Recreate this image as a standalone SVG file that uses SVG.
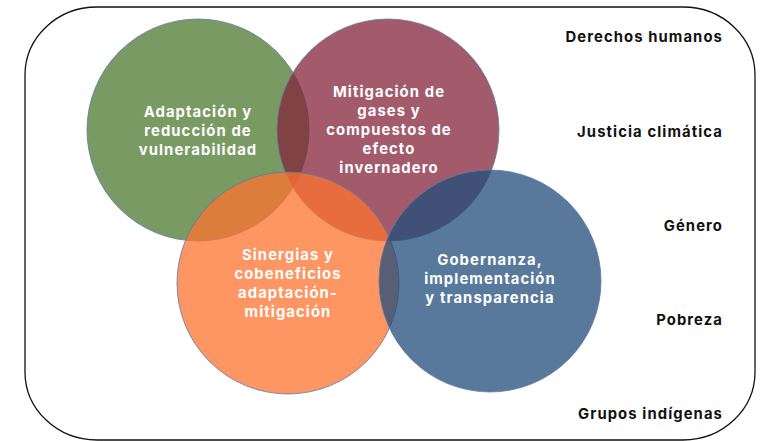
<svg xmlns="http://www.w3.org/2000/svg" width="767" height="441" viewBox="0 0 767 441">
<style>
.frame{fill:none;stroke:#111;stroke-width:1.3}
.c{stroke:#5b7ba6;stroke-width:1;stroke-opacity:0.8}
.t{font-family:Inter,"Open Sans","Liberation Sans",sans-serif;font-weight:700;font-size:14.8px;fill:#fff;text-anchor:middle;letter-spacing:1.1px}
.lab{font-family:Inter,"Open Sans","Liberation Sans",sans-serif;font-weight:700;font-size:14.8px;fill:#111;text-anchor:end;letter-spacing:1.1px}
</style>
<rect class="frame" x="25" y="7" width="730" height="433" rx="72" ry="68"/>
<g id="adaptacion">
<circle class="c" cx="198" cy="130" r="111" fill="#7a9a63"/>
<text class="t"><tspan x="198" y="117">Adaptación y</tspan><tspan x="198" y="136">reducción de</tspan><tspan x="198" y="155">vulnerabilidad</tspan></text>
</g>
<g id="mitigacion">
<circle class="c" cx="388" cy="130" r="111" fill="#84243a" fill-opacity="0.75"/>
<text class="t"><tspan x="389" y="97">Mitigación de</tspan><tspan x="389" y="116">gases y</tspan><tspan x="389" y="135">compuestos de</tspan><tspan x="389" y="154">efecto</tspan><tspan x="389" y="173">invernadero</tspan></text>
</g>
<g id="sinergias">
<circle class="c" cx="288" cy="283" r="111" fill="#fe732f" fill-opacity="0.75"/>
<text class="t"><tspan x="288" y="260">Sinergias y</tspan><tspan x="288" y="279">cobeneficios</tspan><tspan x="288" y="298">adaptación-</tspan><tspan x="288" y="317">mitigación</tspan></text>
</g>
<g id="gobernanza">
<circle class="c" cx="490" cy="281" r="111" fill="#204c7a" fill-opacity="0.75"/>
<text class="t"><tspan x="490" y="265">Gobernanza,</tspan><tspan x="490" y="284">implementación</tspan><tspan x="490" y="303">y transparencia</tspan></text>
</g>
<g id="labels">
<text class="lab" x="723" y="42">Derechos humanos</text>
<text class="lab" x="723" y="137">Justicia climática</text>
<text class="lab" x="723" y="231">Género</text>
<text class="lab" x="723" y="325">Pobreza</text>
<text class="lab" x="723" y="419">Grupos indígenas</text>
</g>
<g id="connectors"/>
</svg>
